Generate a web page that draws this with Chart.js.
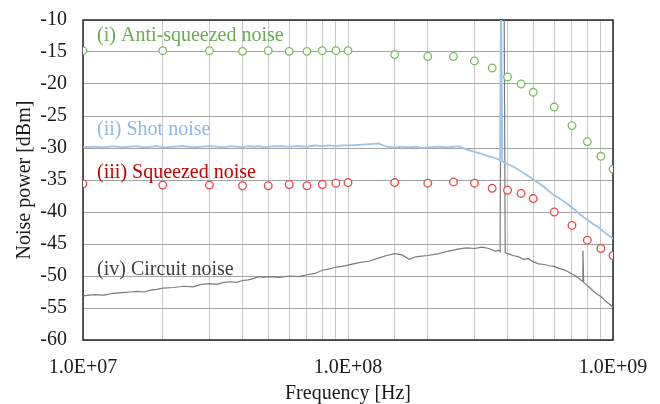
<!DOCTYPE html>
<html>
<head>
<meta charset="utf-8">
<script src="https://cdn.jsdelivr.net/npm/chart.js@4.4.1/dist/chart.umd.min.js"></script>
<style>
html,body{margin:0;padding:0;background:#fff;}
#wrap{width:660px;height:404px;}
</style>
</head>
<body>
<div id="wrap"><canvas id="c" width="660" height="404"></canvas></div>
<script>
// ---- data ----
const xTickLabels = { 7: '1.0E+07', 8: '1.0E+08', 9: '1.0E+09' };
const yTicks = [-60, -55, -50, -45, -40, -35, -30, -25, -20, -15, -10];

// marker frequencies [Hz]
const markerFreq = [1e7, 2e7, 3e7, 4e7, 5e7, 6e7, 7e7, 8e7, 9e7, 1e8,
  1.5e8, 2e8, 2.5e8, 3e8, 3.5e8, 4e8, 4.5e8, 5e8, 6e8, 7e8, 8e8, 9e8, 1e9];
const antiSqueezed = [-14.8, -14.8, -14.8, -14.9, -14.8, -14.9, -14.9, -14.8, -14.8, -14.8,
  -15.4, -15.7, -15.7, -16.4, -17.5, -18.9, -20.0, -21.3, -23.6, -26.5, -29.0, -31.3, -33.3];
const squeezed = [-35.6, -35.8, -35.8, -35.9, -35.9, -35.7, -35.9, -35.7, -35.5, -35.4,
  -35.4, -35.5, -35.3, -35.5, -36.3, -36.6, -37.1, -37.9, -40.0, -42.1, -44.4, -45.7, -46.8];

// trace frequencies [MHz]
const traceMHz = [10, 11, 12, 13, 14, 15, 16, 17, 18, 19, 20,
  22, 24, 26, 28, 30, 32, 34, 36, 38, 40, 42, 44, 46, 48, 50,
  55, 60, 65, 70, 75, 80, 85, 90, 95, 100,
  110, 120, 130, 140, 150, 160, 170, 180, 190, 200,
  220, 240, 260, 280, 300, 320, 340, 360, 370, 375, 378, 380, 382, 385, 388, 390, 392, 395, 400,
  420, 440, 460, 480, 500, 525, 550, 575, 600, 625, 650, 675, 700, 725, 750, 765, 770, 775,
  800, 825, 850, 875, 900, 925, 950, 975, 1000];
const shotNoise = [-29.9, -29.8, -29.9, -29.7, -29.9, -29.8, -29.7, -29.9, -29.8, -29.7, -29.9,
  -29.8, -29.7, -29.9, -29.8, -29.7, -29.8, -29.9, -29.7, -29.8, -29.9, -29.7, -29.8, -29.7, -29.9, -29.8,
  -29.7, -29.8, -29.7, -29.8, -29.6, -29.7, -29.6, -29.7, -29.6, -29.6,
  -29.5, -29.4, -29.3, -29.8, -29.9, -29.8, -29.9, -29.8, -30.0, -29.9,
  -29.8, -29.9, -29.7, -30.2, -30.6, -30.9, -31.3, -31.6, -31.8, -31.9, -5, -5, -32.1, -32.1, -32.2, -32.3, -32.3, -32.4, -32.5,
  -32.9, -33.4, -33.9, -34.4, -34.9, -35.5, -36.1, -36.8, -37.4, -37.8, -38.3, -38.8, -39.3, -39.8, -40.4, -40.6, -40.7, -40.8,
  -41.2, -41.6, -42.0, -42.3, -42.7, -43.1, -43.5, -43.8, -44.2];
const circuitNoise = [-53.1, -52.9, -53.0, -52.7, -52.6, -52.5, -52.4, -52.5, -52.2, -52.1, -51.9,
  -51.8, -51.6, -51.7, -51.3, -51.2, -51.3, -51.0, -50.9, -51.0, -50.7, -50.6, -50.4, -50.1, -50.2, -50.1,
  -50.2, -50.0, -50.1, -49.8, -49.6, -49.1, -48.9, -48.6, -48.5, -48.3,
  -47.9, -47.7, -47.2, -46.8, -46.5, -46.7, -47.4, -47.0, -46.9, -46.8,
  -46.5, -46.1, -45.8, -45.6, -45.7, -45.5, -45.7, -46.1, -46.0, -46.2, -5, -5, -5, -5, -5, -5, -46.3, -46.4, -46.5,
  -46.8, -47.0, -47.4, -47.3, -47.8, -48.1, -48.2, -48.4, -48.5, -48.8, -49.0, -49.3, -49.7, -50.0, -50.5, -50.8, -46.0, -51.0,
  -51.5, -52.0, -52.5, -52.9, -53.2, -53.7, -54.1, -54.5, -54.9];

const seriesLabels = ['(i) Anti-squeezed noise', '(ii) Shot noise', '(iii) Squeezed noise', '(iv) Circuit noise'];
// label anchors (left edge, vertical centre) in data units
const labelAnchorX = [1.13e7, 1.13e7, 1.13e7, 1.13e7];
const labelAnchorY = [-12.5, -27.2, -33.9, -49.1];
const labelColors = ['#6aaa52', '#8fb8df', '#c00000', '#3f3f3f'];

// ---- build ----
const FONT = "'Liberation Serif', 'Times New Roman', serif";
const pts = (xs, ys, k) => xs.map((x, i) => ({ x: x * k, y: ys[i] }));

const frame = {
  id: 'frame',
  beforeDatasetsDraw(chart) {
    const a = chart.chartArea, ctx = chart.ctx;
    ctx.save();
    ctx.strokeStyle = '#262626';
    ctx.lineWidth = 1.5;
    ctx.strokeRect(a.left, a.top, a.right - a.left, a.bottom - a.top);
    ctx.restore();
  }
};
const labels = {
  id: 'labels',
  afterDatasetsDraw(chart) {
    const ctx = chart.ctx, xs = chart.scales.x, ys = chart.scales.y;
    ctx.save();
    ctx.font = '20px ' + FONT;
    ctx.textBaseline = 'middle';
    ctx.textAlign = 'left';
    seriesLabels.forEach((t, i) => {
      ctx.fillStyle = labelColors[i];
      ctx.fillText(t, xs.getPixelForValue(labelAnchorX[i]), ys.getPixelForValue(labelAnchorY[i]));
    });
    ctx.restore();
  }
};

new Chart(document.getElementById('c'), {
  type: 'scatter',
  data: {
    datasets: [
      { label: seriesLabels[0], data: pts(markerFreq, antiSqueezed, 1), showLine: false, order: 0,
        pointRadius: 3.8, pointBorderWidth: 1.3, borderColor: '#7dbb5c', backgroundColor: '#ffffff' },
      { label: seriesLabels[2], data: pts(markerFreq, squeezed, 1), showLine: false, order: 0,
        pointRadius: 3.8, pointBorderWidth: 1.3, borderColor: '#e0474c', backgroundColor: '#ffffff' },
      { label: seriesLabels[1], data: pts(traceMHz, shotNoise, 1e6), showLine: true, order: 1,
        pointRadius: 0, borderWidth: 1.8, borderColor: '#9dc3e6', tension: 0 },
      { label: seriesLabels[3], data: pts(traceMHz, circuitNoise, 1e6), showLine: true, order: 1,
        pointRadius: 0, borderWidth: 1.2, borderColor: '#7a7a7a', tension: 0 }
    ]
  },
  options: {
    responsive: false,
    animation: false,
    devicePixelRatio: 1,
    layout: { autoPadding: false, padding: { top: 20, right: 47, left: 0, bottom: 0 } },
    plugins: { legend: { display: false }, tooltip: { enabled: false } },
    scales: {
      x: {
        type: 'logarithmic', min: 1e7, max: 1e9,
        afterFit(s) { s.height = 64; s.paddingLeft = 0; s.paddingRight = 0; },
        border: { display: false },
        grid: { color: '#c8c8c8', lineWidth: 1, drawTicks: false },
        ticks: {
          autoSkip: false, maxRotation: 0, minRotation: 0, padding: 16,
          color: '#1a1a1a', font: { family: FONT, size: 20 },
          callback(v) {
            const e = Math.log10(v), r = Math.round(e);
            return Math.abs(e - r) < 1e-9 && xTickLabels[r] ? xTickLabels[r] : '';
          }
        },
        title: { display: true, text: 'Frequency [Hz]', color: '#1a1a1a',
          font: { family: FONT, size: 20, lineHeight: 1.0 }, padding: { top: 0, bottom: 0 } }
      },
      y: {
        min: -60, max: -10,
        afterFit(s) { s.width = 83; s.paddingTop = 0; s.paddingBottom = 0; },
        afterBuildTicks(s) { s.ticks = yTicks.map(v => ({ value: v })); },
        border: { display: false },
        grid: { color: '#a3a3a3', lineWidth: 1, drawTicks: false },
        ticks: { padding: 16, color: '#1a1a1a', font: { family: FONT, size: 20 } },
        title: { display: true, text: 'Noise power [dBm]', color: '#1a1a1a',
          font: { family: FONT, size: 20 }, padding: { top: 13, bottom: 0 } }
      }
    }
  },
  plugins: [frame, labels]
});
</script>
</body>
</html>
